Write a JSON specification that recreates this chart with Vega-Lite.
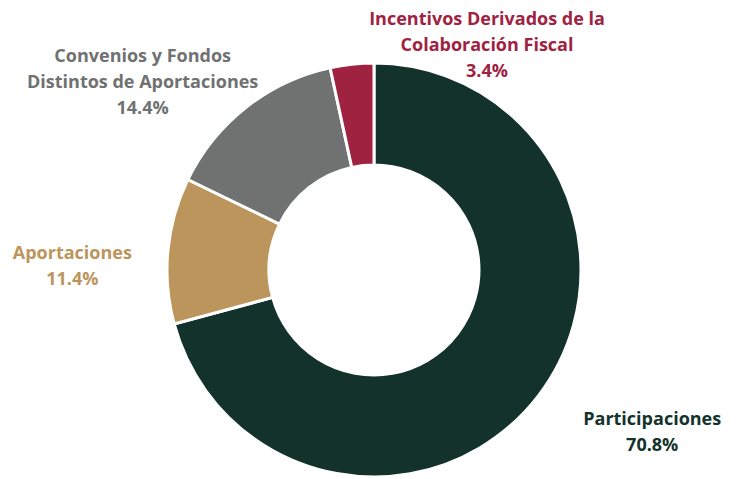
{
  "$schema": "https://vega.github.io/schema/vega-lite/v6.json",
  "width": 724,
  "height": 416,
  "autosize": {"type": "none"},
  "padding": {"left": 12, "top": 62, "right": 0, "bottom": 1},
  "background": "white",
  "view": {"stroke": null},
  "data": {"values": [
    {"categoria": "Participaciones", "pct": 70.8, "orden": 1, "etiqueta": "Participaciones\n70.8%"},
    {"categoria": "Aportaciones", "pct": 11.4, "orden": 2, "etiqueta": "Aportaciones\n11.4%"},
    {"categoria": "Convenios y Fondos Distintos de Aportaciones", "pct": 14.4, "orden": 3, "etiqueta": "Convenios y Fondos\nDistintos de Aportaciones\n14.4%"},
    {"categoria": "Incentivos Derivados de la Colaboración Fiscal", "pct": 3.4, "orden": 4, "etiqueta": "Incentivos Derivados de la\nColaboración Fiscal\n3.4%"}
  ]},
  "encoding": {
    "theta": {"field": "pct", "type": "quantitative", "stack": true},
    "order": {"field": "orden", "type": "quantitative"},
    "detail": {"field": "categoria", "type": "nominal"}
  },
  "layer": [
    {
      "mark": {"type": "arc", "innerRadius": 105, "outerRadius": 207, "stroke": "white", "strokeWidth": 3},
      "encoding": {
        "color": {
          "field": "categoria", "type": "nominal", "legend": null,
          "scale": {
            "domain": ["Participaciones", "Aportaciones", "Convenios y Fondos Distintos de Aportaciones", "Incentivos Derivados de la Colaboración Fiscal"],
            "range": ["#13322B", "#BC955C", "#6F7271", "#9F2241"]
          }
        }
      }
    },
    {
      "mark": {"type": "text", "radius": 300, "dx": 40, "dy": -32, "font": "Open Sans", "fontSize": 18, "fontWeight": "bold", "lineBreak": "\n", "lineHeight": 26, "align": "center", "baseline": "middle", "color": "#13322B"},
      "encoding": {"text": {"condition": {"test": "datum.categoria === 'Participaciones'", "field": "etiqueta"}, "value": ""}}
    },
    {
      "mark": {"type": "text", "radius": 300, "dx": -3, "dy": 12, "font": "Open Sans", "fontSize": 18, "fontWeight": "bold", "lineBreak": "\n", "lineHeight": 26, "align": "center", "baseline": "middle", "color": "#BC955C"},
      "encoding": {"text": {"condition": {"test": "datum.categoria === 'Aportaciones'", "field": "etiqueta"}, "value": ""}}
    },
    {
      "mark": {"type": "text", "radius": 300, "dx": -46, "dy": 23, "font": "Open Sans", "fontSize": 18, "fontWeight": "bold", "lineBreak": "\n", "lineHeight": 26, "align": "center", "baseline": "middle", "color": "#6F7271"},
      "encoding": {"text": {"condition": {"test": "datum.categoria === 'Convenios y Fondos Distintos de Aportaciones'", "field": "etiqueta"}, "value": ""}}
    },
    {
      "mark": {"type": "text", "radius": 300, "dx": 145, "dy": 48, "font": "Open Sans", "fontSize": 18, "fontWeight": "bold", "lineBreak": "\n", "lineHeight": 26, "align": "center", "baseline": "middle", "color": "#9F2241"},
      "encoding": {"text": {"condition": {"test": "datum.categoria === 'Incentivos Derivados de la Colaboración Fiscal'", "field": "etiqueta"}, "value": ""}}
    }
  ]
}
